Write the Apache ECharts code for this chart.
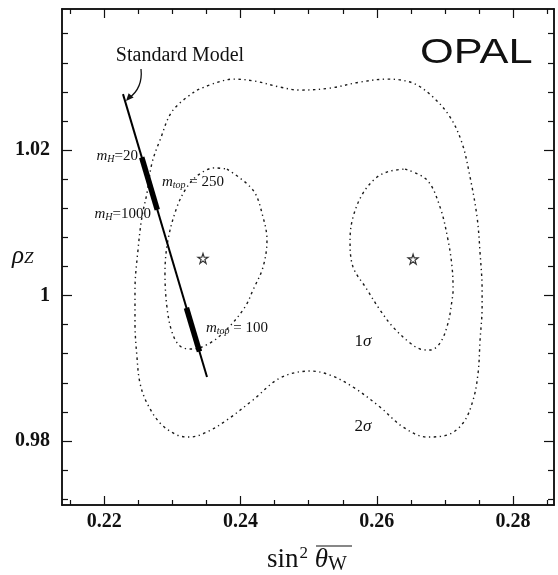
<!DOCTYPE html>
<html>
<head>
<meta charset="utf-8">
<script src="https://cdn.jsdelivr.net/npm/echarts@6/dist/echarts.min.js"></script>
<style>
  html, body { margin: 0; padding: 0; background: #fff; }
  #chart { width: 558px; height: 575px; }
</style>
</head>
<body>
<div id="chart"></div>
<script>
// Axis ranges and tick positions
const xRange = [0.2138, 0.2860];
const yRange = [0.9712, 1.0394];
const xMajor = [0.22, 0.24, 0.26, 0.28];
const xMinor = [0.215, 0.225, 0.23, 0.235, 0.245, 0.25, 0.255, 0.265, 0.27, 0.275, 0.285];
const yMajor = [0.98, 1.00, 1.02];
const yMinor = [0.972, 0.976, 0.984, 0.988, 0.992, 0.996, 1.004, 1.008, 1.012, 1.016, 1.024, 1.028, 1.032, 1.036];

// 2 sigma contour (sin^2 theta_W, rho_Z)
const contour2s = [
  [0.23361, 1.02825], [0.23625, 1.02921], [0.23889, 1.02976], [0.24212, 1.02948],
  [0.24579, 1.02866], [0.24873, 1.02825], [0.25313, 1.02852], [0.25754, 1.02935],
  [0.26150, 1.02976], [0.26532, 1.02921], [0.26825, 1.02729], [0.27075, 1.02454],
  [0.27251, 1.02096], [0.27368, 1.01629], [0.27471, 1.01079], [0.27515, 1.00584],
  [0.27545, 1.00076], [0.27545, 0.99842], [0.27515, 0.99388], [0.27486, 0.98935],
  [0.27413, 0.98564], [0.27266, 0.98247], [0.27031, 0.98082], [0.26737, 0.98055],
  [0.26385, 0.98192], [0.26047, 0.98467], [0.25651, 0.98742], [0.25313, 0.98907],
  [0.25020, 0.98962], [0.24579, 0.98866], [0.24183, 0.98564], [0.23801, 0.98289],
  [0.23508, 0.98124], [0.23258, 0.98055], [0.23067, 0.98082], [0.22818, 0.98247],
  [0.22627, 0.98522], [0.22524, 0.98797], [0.22480, 0.99155], [0.22451, 0.99622],
  [0.22451, 1.00076], [0.22495, 1.00625], [0.22553, 1.01079], [0.22627, 1.01409],
  [0.22700, 1.01821], [0.22818, 1.02137], [0.23009, 1.02550], [0.23361, 1.02825]
];

// 1 sigma contours: left and right islands
const contour1sLeft = [
  [0.23801, 1.01739], [0.24183, 1.01450], [0.24330, 1.01079], [0.24388, 1.00763],
  [0.24330, 1.00392], [0.24183, 1.00076], [0.24065, 0.99842], [0.23816, 0.99553],
  [0.23552, 0.99347], [0.23287, 0.99265], [0.23111, 0.99306], [0.22994, 0.99498],
  [0.22920, 0.99842], [0.22891, 1.00309], [0.22935, 1.00763], [0.23067, 1.01216],
  [0.23214, 1.01491], [0.23376, 1.01656], [0.23620, 1.01755], [0.23801, 1.01739]
];
const contour1sRight = [
  [0.26414, 1.01739], [0.26737, 1.01588], [0.26928, 1.01216], [0.27045, 1.00763],
  [0.27104, 1.00392], [0.27119, 1.00076], [0.27104, 0.99938], [0.27045, 0.99622],
  [0.26928, 0.99347], [0.26781, 0.99251], [0.26634, 0.99265], [0.26488, 0.99347],
  [0.26238, 0.99567], [0.26047, 0.99801], [0.25842, 1.00103], [0.25651, 1.00392],
  [0.25607, 1.00763], [0.25651, 1.01079], [0.25798, 1.01409], [0.26003, 1.01629],
  [0.26194, 1.01711], [0.26414, 1.01739]
];

// best-fit points
const bestFits = [[0.23449, 1.0051], [0.26532, 1.0050]];

// Standard Model prediction line and its m_H / m_top bands
const smLine = [[0.22275, 1.0277], [0.23508, 0.9888]];
const smHiggsBand = [[0.22550, 1.0190], [0.22778, 1.0118]];
const smTopBand = [[0.23206, 0.9983], [0.23397, 0.9923]];

const SERIF = '"Liberation Serif", "Times New Roman", serif';
const AXIS_COLOR = '#111';

function xAxisDef(position, ticks, len, showLabels) {
  return {
    type: 'value', position: position, gridIndex: 0,
    min: xRange[0], max: xRange[1],
    axisLine: { show: true, onZero: false, lineStyle: { color: AXIS_COLOR, width: 1.5 } },
    axisTick: { show: true, inside: true, length: len, customValues: ticks,
                lineStyle: { color: AXIS_COLOR, width: 1.2 } },
    axisLabel: { show: showLabels, customValues: xMajor, margin: 7,
                 fontFamily: SERIF, fontWeight: 'bold', fontSize: 20, color: '#111' },
    splitLine: { show: false }
  };
}
function yAxisDef(position, ticks, len, showLabels) {
  return {
    type: 'value', position: position, gridIndex: 0,
    min: yRange[0], max: yRange[1],
    axisLine: { show: true, onZero: false, lineStyle: { color: AXIS_COLOR, width: 1.5 } },
    axisTick: { show: true, inside: true, length: len, customValues: ticks,
                lineStyle: { color: AXIS_COLOR, width: 1.2 } },
    axisLabel: { show: showLabels, customValues: yMajor, margin: 12,
                 fontFamily: SERIF, fontWeight: 'bold', fontSize: 20, color: '#111' },
    splitLine: { show: false }
  };
}

const contourStyle = { color: '#1a1a1a', width: 1.4, type: [2.5, 3.5, 1.3, 3.5] };
function contourSeries(name, data) {
  return {
    name: name, type: 'line', data: data, smooth: 0.35,
    symbol: 'none', lineStyle: contourStyle, silent: true, z: 2
  };
}

const starPath = 'path://M50,2 L61,36 L97,36 L68,57 L79,92 L50,71 L21,92 L32,57 L3,36 L39,36 Z';

const massRich = {
  m: { font: 'italic 15px ' + SERIF, fill: '#111' },
  s: { font: 'italic 10px ' + SERIF, fill: '#111', padding: [7, 0, 0, 0] },
  t: { font: '15px ' + SERIF, fill: '#111' }
};

const chart = echarts.init(document.getElementById('chart'), null, { renderer: 'canvas' });
chart.setOption({
  backgroundColor: '#fff',
  animation: false,
  grid: { left: 62, top: 9, width: 492, height: 496 },
  xAxis: [
    xAxisDef('bottom', xMajor, 9, true),
    xAxisDef('bottom', xMinor, 5, false),
    xAxisDef('top', xMajor, 9, false),
    xAxisDef('top', xMinor, 5, false)
  ],
  yAxis: [
    yAxisDef('left', yMajor, 10, true),
    yAxisDef('left', yMinor, 6, false),
    yAxisDef('right', yMajor, 10, false),
    yAxisDef('right', yMinor, 6, false)
  ],
  series: [
    contourSeries('2σ', contour2s),
    contourSeries('1σ left', contour1sLeft),
    contourSeries('1σ right', contour1sRight),
    {
      name: 'Standard Model', type: 'line', data: smLine, symbol: 'none',
      lineStyle: { color: '#000', width: 2 }, z: 3
    },
    {
      name: 'm_H band', type: 'line', data: smHiggsBand, symbol: 'none',
      lineStyle: { color: '#000', width: 5.5, cap: 'butt' }, z: 4
    },
    {
      name: 'm_top band', type: 'line', data: smTopBand, symbol: 'none',
      lineStyle: { color: '#000', width: 5.5, cap: 'butt' }, z: 4
    },
    {
      name: 'best fit', type: 'scatter', data: bestFits, symbol: starPath, symbolSize: 10,
      itemStyle: { color: '#fff', borderColor: '#000', borderWidth: 1.2 }, z: 5
    }
  ],
  graphic: [
    // experiment tag
    { type: 'text', x: 420, y: 36, scaleX: 1.24,
      style: { text: 'OPAL', font: '35px "Liberation Sans", Arial, sans-serif', fill: '#111' } },
    // Standard Model caption with curved arrow
    { type: 'text', x: 180, y: 56,
      style: { text: 'Standard Model', font: '20px ' + SERIF, fill: '#111',
               align: 'center', verticalAlign: 'middle' } },
    { type: 'bezierCurve',
      shape: { x1: 141, y1: 69, cpx1: 143, cpy1: 88, x2: 129, y2: 98 },
      style: { stroke: '#111', lineWidth: 1.3, fill: null } },
    { type: 'polygon',
      shape: { points: [[126, 101], [128.6, 93.2], [133.6, 97.6]] },
      style: { fill: '#111' } },
    // mass labels along the Standard Model line
    { type: 'text', x: 138, y: 156,
      style: { text: '{m|m}{s|H}{t|=20}', align: 'right', verticalAlign: 'middle', rich: massRich } },
    { type: 'text', x: 151, y: 214,
      style: { text: '{m|m}{s|H}{t|=1000}', align: 'right', verticalAlign: 'middle', rich: massRich } },
    { type: 'text', x: 162, y: 182,
      style: { text: '{m|m}{s|top}{t| = 250}', align: 'left', verticalAlign: 'middle', rich: massRich } },
    { type: 'text', x: 206, y: 328,
      style: { text: '{m|m}{s|top}{t| = 100}', align: 'left', verticalAlign: 'middle', rich: massRich } },
    // contour level labels
    { type: 'text', x: 363, y: 342,
      style: { text: '{n|1}{g|σ}', align: 'center', verticalAlign: 'middle',
        rich: { n: { font: '17px ' + SERIF, fill: '#111' },
                g: { font: 'italic 17px ' + SERIF, fill: '#111' } } } },
    { type: 'text', x: 363, y: 427,
      style: { text: '{n|2}{g|σ}', align: 'center', verticalAlign: 'middle',
        rich: { n: { font: '17px ' + SERIF, fill: '#111' },
                g: { font: 'italic 17px ' + SERIF, fill: '#111' } } } },
    // y axis title: rho_Z
    { type: 'text', x: 12, y: 256,
      style: { text: '{r|ρ}{z|Z}', align: 'left', verticalAlign: 'middle',
        rich: { r: { font: 'italic 25px ' + SERIF, fill: '#111' },
                z: { font: 'italic 17px ' + SERIF, fill: '#111', padding: [6, 0, 0, 0] } } } },
    // x axis title: sin^2 theta_W with overline
    { type: 'text', x: 267, y: 560,
      style: { text: '{a|sin}{p|2}{a| }{t|θ}{w|W}', align: 'left', verticalAlign: 'middle',
        rich: { a: { font: '27px ' + SERIF, fill: '#111' },
                p: { font: '17px ' + SERIF, fill: '#111', padding: [0, 0, 12, 1] },
                t: { font: 'italic 27px ' + SERIF, fill: '#111' },
                w: { font: '20px ' + SERIF, fill: '#111', padding: [10, 0, 0, 0] } } } },
    { type: 'line', shape: { x1: 316, y1: 546, x2: 352, y2: 546 },
      style: { stroke: '#111', lineWidth: 1.2 } }
  ]
});
</script>
</body>
</html>
